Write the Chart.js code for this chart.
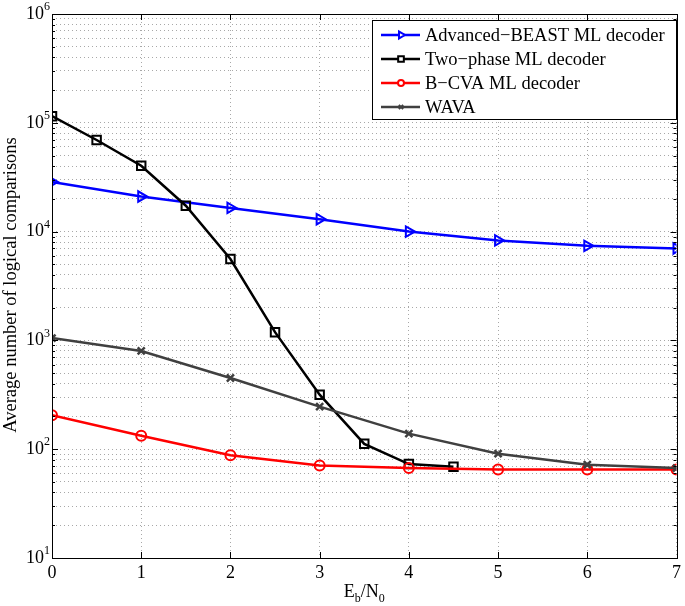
<!DOCTYPE html>
<html><head><meta charset="utf-8">
<script src="https://cdn.jsdelivr.net/npm/chart.js@4.4.0/dist/chart.umd.min.js"></script>
<style>html,body{margin:0;padding:0;background:#fff}</style>
</head><body>
<canvas id="c" width="685" height="606"></canvas>
<script>
// ---- data ----
const snr = [0, 1, 2, 3, 4, 5, 6, 7];
const snrTwoPhase = [0, 0.5, 1, 1.5, 2, 2.5, 3, 3.5, 4, 4.5];
const beastValues = [28600, 21000, 16500, 13000, 10000, 8300, 7400, 7000];
const twoPhaseValues = [115000, 69500, 40300, 17300, 5600, 1190, 317, 112, 73, 69];
const bcvaValues = [205, 133, 88, 71, 67, 65, 65, 65];
const wavaValues = [1050, 800, 451, 246, 139, 91, 72, 67];
const seriesLabels = ['Advanced\u2212BEAST ML decoder', 'Two\u2212phase ML decoder', 'B\u2212CVA ML decoder', 'WAVA'];
const xTickLabels = ['0', '1', '2', '3', '4', '5', '6', '7'];
const yExponents = [1, 2, 3, 4, 5, 6];
const yAxisTitle = 'Average number of logical comparisons';

const FONT = "'Liberation Serif', 'Times New Roman', serif";
const toPts = (xs, ys) => ys.map((v, i) => ({ x: xs[i], y: v }));

const yTickValues = [];
for (let e = 1; e < 6; e++) for (let m = 1; m < 10; m++) yTickValues.push(m * Math.pow(10, e));
yTickValues.push(1e6);

const frame = {
  id: 'frame',
  afterDraw(chart) {
    const ctx = chart.ctx, a = chart.chartArea, xs = chart.scales.x, ys = chart.scales.y;
    ctx.save();
    // box
    ctx.strokeStyle = '#000'; ctx.lineWidth = 1;
    ctx.strokeRect(Math.round(a.left) + 0.5, Math.round(a.top) + 0.5, Math.round(a.right - a.left), Math.round(a.bottom - a.top));
    // inner ticks
    ctx.beginPath();
    snr.forEach(v => {
      const p = Math.round(xs.getPixelForValue(v)) + 0.5;
      ctx.moveTo(p, a.bottom); ctx.lineTo(p, a.bottom - 6);
      ctx.moveTo(p, a.top); ctx.lineTo(p, a.top + 6);
    });
    yTickValues.forEach(v => {
      const p = Math.round(ys.getPixelForValue(v)) + 0.5;
      const major = Math.abs(Math.log10(v) - Math.round(Math.log10(v))) < 1e-9;
      const L = major ? 6 : 3;
      ctx.moveTo(a.left, p); ctx.lineTo(a.left + L, p);
      ctx.moveTo(a.right, p); ctx.lineTo(a.right - L, p);
    });
    ctx.stroke();
    // y tick labels 10^k
    ctx.fillStyle = '#000';
    ctx.textBaseline = 'middle';
    yExponents.forEach(e => {
      const p = ys.getPixelForValue(Math.pow(10, e));
      ctx.font = '18px ' + FONT;
      ctx.textAlign = 'right';
      ctx.fillText('10', 44, p);
      ctx.font = '12px ' + FONT;
      ctx.textAlign = 'left';
      ctx.fillText(String(e), 44, p - 7);
    });
    // y axis title
    ctx.save();
    ctx.translate(16, 285);
    ctx.rotate(-Math.PI / 2);
    ctx.font = '18.5px ' + FONT;
    ctx.textAlign = 'center';
    ctx.textBaseline = 'alphabetic';
    ctx.fillText(yAxisTitle, 0, 0);
    ctx.restore();
    // x axis title E_b/N_0
    const cx = (a.left + a.right) / 2;
    ctx.textBaseline = 'alphabetic';
    const parts = [['E', 18, 0], ['b', 12, 5], ['/N', 18, 0], ['0', 12, 5]];
    let w = 0;
    parts.forEach(p => { ctx.font = p[1] + 'px ' + FONT; w += ctx.measureText(p[0]).width; });
    let x = cx - w / 2;
    const base = 597;
    ctx.textAlign = 'left';
    parts.forEach(p => { ctx.font = p[1] + 'px ' + FONT; ctx.fillText(p[0], x, base + p[2]); x += ctx.measureText(p[0]).width; });
    // legend
    const lx = 372, ly = 20, lw = 304, lh = 99;
    ctx.fillStyle = '#fff';
    ctx.fillRect(lx, ly, lw, lh);
    ctx.strokeStyle = '#000'; ctx.lineWidth = 1;
    ctx.strokeRect(lx + 0.5, ly + 0.5, lw, lh);
    chart.data.datasets.forEach((ds, i) => {
      const yy = 35 + i * 24;
      ctx.strokeStyle = ds.borderColor; ctx.lineWidth = ds.borderWidth;
      ctx.beginPath(); ctx.moveTo(381, yy); ctx.lineTo(420, yy); ctx.stroke();
      ctx.fillStyle = '#fff';
      ctx.strokeStyle = ds.borderColor;
      ctx.lineWidth = 2;
      Chart.helpers.drawPoint(ctx, { pointStyle: ds.pointStyle, radius: ds.pointRadius - 2, rotation: ds.pointRotation || 0, borderWidth: 2 }, 401, yy);
      ctx.fillStyle = '#000';
      ctx.font = '18.5px ' + FONT;
      ctx.textBaseline = 'middle';
      ctx.textAlign = 'left';
      ctx.fillText(ds.label, 425, yy + 1);
    });
    ctx.restore();
  }
};

new Chart(document.getElementById('c'), {
  type: 'line',
  data: {
    datasets: [
      { label: seriesLabels[0], data: toPts(snr, beastValues), borderColor: '#0000ff', backgroundColor: 'rgba(0,0,0,0)', borderWidth: 2.5, pointStyle: 'triangle', pointRotation: 90, pointRadius: 6, pointBorderWidth: 2, order: 3 },
      { label: seriesLabels[1], data: toPts(snrTwoPhase, twoPhaseValues), borderColor: '#000000', backgroundColor: 'rgba(0,0,0,0)', borderWidth: 2.5, pointStyle: 'rect', pointRadius: 6, pointBorderWidth: 2, order: 2 },
      { label: seriesLabels[2], data: toPts(snr, bcvaValues), borderColor: '#ff0000', backgroundColor: 'rgba(0,0,0,0)', borderWidth: 2.5, pointStyle: 'circle', pointRadius: 5, pointBorderWidth: 2, order: 1 },
      { label: seriesLabels[3], data: toPts(snr, wavaValues), borderColor: '#404040', backgroundColor: 'rgba(0,0,0,0)', borderWidth: 2.5, pointStyle: 'crossRot', pointRadius: 5, pointBorderWidth: 2.5, order: 0 }
    ]
  },
  options: {
    responsive: false,
    animation: false,
    layout: { padding: { top: 14, right: 8, left: 0, bottom: 0 } },
    plugins: { legend: { display: false }, tooltip: { enabled: false } },
    elements: { line: { tension: 0 } },
    scales: {
      x: {
        type: 'linear', min: 0, max: 7,
        afterBuildTicks: s => { s.ticks = snr.map(v => ({ value: v })); },
        afterFit: s => { s.height = 48; },
        ticks: { callback: (v, i) => xTickLabels[i], font: { family: FONT, size: 18 }, color: '#000', padding: 4, maxRotation: 0 },
        grid: { color: '#a8a8a8', lineWidth: 1, drawTicks: false },
        border: { display: false, dash: [1, 3] }
      },
      y: {
        type: 'logarithmic', min: 10, max: 1e6,
        afterBuildTicks: s => { s.ticks = yTickValues.map(v => ({ value: v })); },
        afterFit: s => { s.width = 52; },
        ticks: { display: false },
        grid: { color: '#a8a8a8', lineWidth: 1, drawTicks: false },
        border: { display: false, dash: [1, 3] },
        title: { display: false }
      }
    }
  },
  plugins: [frame]
});
</script>
</body></html>
